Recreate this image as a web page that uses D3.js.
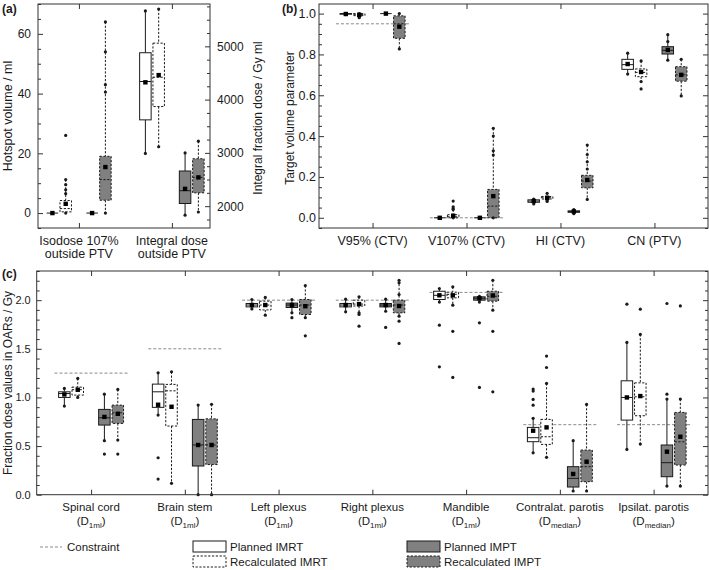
<!DOCTYPE html>
<html><head><meta charset="utf-8">
<script src="https://cdn.jsdelivr.net/npm/d3@7"></script>
<style>body{margin:0;background:#fff}</style>
</head><body>
<svg id="chart" width="709" height="570"></svg>
<script>
// ---------------- DATA ----------------
const seriesNames = ["Planned IMRT", "Recalculated IMRT", "Planned IMPT", "Recalculated IMPT"];
const constraintLabel = "Constraint";

// stats per box: [whiskerLow, q1, median, q3, whiskerHigh, mean]
// Panel (a)
const aCategories = [["Isodose 107%", "outside PTV"], ["Integral dose", "outside PTV"]];
const aTicksLeft = [0, 20, 40, 60];
const aTicksRight = [2000, 3000, 4000, 5000];
const aIsodoseStats = [
  [0, 0, 0, 0, 0, 0],
  [0, 0.4, 1.5, 4.2, 11.2, 3.1],
  [0, 0, 0, 0, 0, 0],
  [0, 4.3, 11.2, 19.0, 64, 15.4]
];
const aIsodoseOutliers = [[], [26, 9.5, 7.8, 6.5], [], [54, 43, 40.5]];
const aIntegralStats = [
  [2990, 3620, 4340, 4880, 5665, 4325],
  [3115, 3870, 4420, 5060, 5700, 4460],
  [1830, 2050, 2290, 2660, 3000, 2325],
  [1890, 2250, 2540, 2890, 3220, 2540]
];
const aIntegralOutliers = [[], [], [], []];

// Panel (b)
const bCategories = ["V95% (CTV)", "V107% (CTV)", "HI (CTV)", "CN (PTV)"];
const bTicks = [0, 0.2, 0.4, 0.6, 0.8, 1.0];
const bStats = [
  [[0.995, 0.997, 1.0, 1.0, 1.0, 0.998], [0.985, 0.99, 0.995, 1.0, 1.0, 0.994], [1.0, 1.0, 1.0, 1.0, 1.0, 1.0], [0.827, 0.879, 0.95, 0.989, 1.0, 0.936]],
  [[0, 0, 0, 0, 0, 0], [0, 0, 0.005, 0.015, 0.04, 0.01], [0, 0, 0, 0, 0, 0], [0, 0, 0.057, 0.139, 0.438, 0.106]],
  [[0.068, 0.076, 0.082, 0.088, 0.092, 0.082], [0.085, 0.092, 0.098, 0.104, 0.12, 0.098], [0.02, 0.027, 0.03, 0.034, 0.04, 0.031], [0.09, 0.147, 0.18, 0.208, 0.356, 0.185]],
  [[0.704, 0.727, 0.75, 0.776, 0.806, 0.753], [0.667, 0.691, 0.712, 0.729, 0.768, 0.714], [0.772, 0.802, 0.82, 0.838, 0.897, 0.822], [0.597, 0.669, 0.70, 0.74, 0.776, 0.70]]
];
const bOutliers = [
  [[], [0.98], [], []],
  [[], [0.082, 0.054, 0.045], [], [0.40, 0.328, 0.307]],
  [[], [0.08], [], [0.31, 0.274, 0.239]],
  [[], [0.631], [0.863], []]
];
const bConstraints = [0.95, 0, null, null];

// Panel (c)
const cCategories = ["Spinal cord", "Brain stem", "Left plexus", "Right plexus", "Mandible", "Contralat. parotis", "Ipsilat. parotis"];
const cSubscripts = ["1ml", "1ml", "1ml", "1ml", "1ml", "median", "median"];
const cTicks = [0, 0.5, 1.0, 1.5, 2.0];
const cStats = [
  [[0.911, 1.0, 1.04, 1.058, 1.093, 1.031], [1.0, 1.024, 1.08, 1.106, 1.196, 1.079], [0.555, 0.716, 0.791, 0.877, 1.034, 0.80], [0.562, 0.733, 0.842, 0.921, 1.082, 0.832]],
  [[0.819, 0.898, 1.058, 1.137, 1.253, 0.925], [0.117, 0.706, 1.068, 1.134, 1.264, 0.904], [0, 0.295, 0.511, 0.774, 0.921, 0.511], [0, 0.31, 0.511, 0.78, 0.93, 0.511]],
  [[1.91, 1.931, 1.95, 1.966, 2.007, 1.95], [1.846, 1.90, 1.95, 1.99, 2.028, 1.95], [1.87, 1.925, 1.95, 1.97, 2.007, 1.95], [1.82, 1.853, 1.95, 2.007, 2.15, 1.938]],
  [[1.88, 1.931, 1.95, 1.966, 2.01, 1.95], [1.853, 1.94, 1.96, 2.0, 2.034, 1.96], [1.886, 1.931, 1.95, 1.966, 2.01, 1.95], [1.836, 1.87, 1.95, 2.0, 2.205, 1.94]],
  [[1.98, 2.007, 2.05, 2.092, 2.12, 2.05], [1.949, 2.024, 2.06, 2.082, 2.137, 2.05], [1.98, 2.0, 2.02, 2.034, 2.04, 2.02], [1.897, 1.99, 2.04, 2.092, 2.205, 2.048]],
  [[0.431, 0.545, 0.586, 0.692, 0.785, 0.658], [0.384, 0.517, 0.596, 0.774, 1.144, 0.692], [0.038, 0.079, 0.168, 0.288, 0.555, 0.213], [0.038, 0.134, 0.288, 0.459, 0.928, 0.339]],
  [[0.466, 0.767, 1.0, 1.171, 1.566, 1.0], [0.521, 0.812, 1.007, 1.15, 1.648, 1.014], [0.089, 0.185, 0.329, 0.511, 0.983, 0.442], [0.089, 0.305, 0.544, 0.846, 0.983, 0.596]]
];
const cOutliers = [
  [[], [], [0.418], [0.418]],
  [[0.38, 0.161], [], [], []],
  [[], [], [1.82], [1.633]],
  [[], [1.87, 1.733], [1.72], [2.178, 2.058, 1.784, 1.555]],
  [[1.743, 1.315], [1.68, 1.206], [1.767, 1.103], [1.68, 1.058]],
  [[1.086, 1.065, 0.98, 0.92], [1.425, 1.308], [], []],
  [[1.959], [1.908], [1.966, 1.034], [1.941]]
];
const cConstraints = [1.25, 1.5, 2.0, 2.0, 2.08, 0.72, 0.72];

// ---------------- STYLE ----------------
const FONT = "'Liberation Sans', Arial, Helvetica, sans-serif";
const INK = "#1a1a1a";
const FRAME = "#333";
const FILLS = ["#ffffff", "#ffffff", "#808080", "#808080"];
const DASHED = [false, true, false, true];
const OFFS = [-0.285, -0.142, 0.142, 0.285];
const HALF = 5.75;
const DASH = "2.2,1.6";

const svg = d3.select("#chart");

function frame(x0, y0, x1, y1) {
  svg.append("rect").attr("x", x0).attr("y", y0).attr("width", x1 - x0).attr("height", y1 - y0)
    .attr("fill", "none").attr("stroke", FRAME).attr("stroke-width", 1);
}

function yAxis(scale, x, side, majors, minors, fmt, fontSize, pad) {
  const mk = side === "left" ? d3.axisLeft : d3.axisRight;
  const g = svg.append("g").attr("transform", `translate(${x},0)`)
    .call(mk(scale).tickValues(majors).tickSizeInner(-5).tickSizeOuter(0).tickPadding(pad).tickFormat(fmt));
  g.select(".domain").remove();
  g.selectAll("line").attr("stroke", FRAME);
  g.selectAll("text").attr("font-size", fontSize).attr("font-family", FONT).attr("fill", INK);
  const gm = svg.append("g").attr("transform", `translate(${x},0)`)
    .call(mk(scale).tickValues(minors).tickSizeInner(-3).tickSizeOuter(0).tickFormat(""));
  gm.select(".domain").remove();
  gm.selectAll("line").attr("stroke", FRAME);
}

function xCatTicks(scale, n, yTop, yBot) {
  const vals = d3.range(1, n + 1);
  const gb = svg.append("g").attr("transform", `translate(0,${yBot})`)
    .call(d3.axisBottom(scale).tickValues(vals).tickSizeInner(-5).tickSizeOuter(0).tickFormat(""));
  gb.select(".domain").remove(); gb.selectAll("line").attr("stroke", FRAME);
  const gt = svg.append("g").attr("transform", `translate(0,${yTop})`)
    .call(d3.axisTop(scale).tickValues(vals).tickSizeInner(-5).tickSizeOuter(0).tickFormat(""));
  gt.select(".domain").remove(); gt.selectAll("line").attr("stroke", FRAME);
}

function minorsFor(lo, hi, step, majors) {
  const out = [];
  for (let v = Math.ceil(lo / step) * step; v <= hi + 1e-9; v += step) {
    const r = Math.round(v * 1000) / 1000;
    if (!majors.some(m => Math.abs(m - r) < 1e-6)) out.push(r);
  }
  return out;
}

function box(xs, ys, cat, s, st, outs) {
  const g = svg.append("g");
  const cx = xs(cat + OFFS[s]);
  const [lo, q1, med, q3, hi, mean] = st;
  const dash = DASHED[s] ? DASH : null;
  g.append("line").attr("x1", cx).attr("x2", cx).attr("y1", ys(hi)).attr("y2", ys(q3))
    .attr("stroke", INK).attr("stroke-width", 1).attr("stroke-dasharray", dash);
  g.append("line").attr("x1", cx).attr("x2", cx).attr("y1", ys(q1)).attr("y2", ys(lo))
    .attr("stroke", INK).attr("stroke-width", 1).attr("stroke-dasharray", dash);
  g.append("rect").attr("x", cx - HALF).attr("y", ys(q3)).attr("width", HALF * 2)
    .attr("height", Math.max(0, ys(q1) - ys(q3)))
    .attr("fill", FILLS[s]).attr("stroke", INK).attr("stroke-width", 1).attr("stroke-dasharray", dash);
  g.append("line").attr("x1", cx - HALF).attr("x2", cx + HALF).attr("y1", ys(med)).attr("y2", ys(med))
    .attr("stroke", INK).attr("stroke-width", 1).attr("stroke-dasharray", dash);
  [lo, hi].concat(outs).forEach(v => {
    g.append("circle").attr("cx", cx).attr("cy", ys(v)).attr("r", 1.6).attr("fill", INK);
  });
  g.append("rect").attr("x", cx - 2.2).attr("y", ys(mean) - 2.2).attr("width", 4.4).attr("height", 4.4).attr("fill", "#000");
}

function constraint(xs, ys, cat, v) {
  if (v === null) return;
  svg.append("line").attr("x1", xs(cat - 0.39)).attr("x2", xs(cat + 0.39)).attr("y1", ys(v)).attr("y2", ys(v))
    .attr("stroke", "#8a8a8a").attr("stroke-width", 1).attr("stroke-dasharray", "3,2");
}

function label(x, y, txt, size, opts = {}) {
  const t = svg.append("text").attr("x", x).attr("y", y).attr("font-family", FONT).attr("font-size", size)
    .attr("fill", INK).attr("text-anchor", opts.anchor || "start").text(txt);
  if (opts.bold) t.attr("font-weight", "bold");
  if (opts.rotate) t.attr("transform", `rotate(-90,${x},${y})`);
  return t;
}

// ---------------- PANEL (a) ----------------
const aX = d3.scaleLinear().domain([0.56, 2.41]).range([38, 210]);
const aYL = d3.scaleLinear().domain([-5, 70]).range([228, 4]);
const aYR = d3.scaleLinear().domain([1590, 5795]).range([228, 4]);
yAxis(aYL, 38, "left", aTicksLeft, minorsFor(-5, 70, 5, aTicksLeft), d3.format("d"), 12, 7);
yAxis(aYR, 210, "right", aTicksRight, minorsFor(1600, 5750, 250, aTicksRight), d3.format("d"), 12, 7);
xCatTicks(aX, 2, 4, 228);
seriesNames.forEach((_, s) => {
  box(aX, aYL, 1, s, aIsodoseStats[s], aIsodoseOutliers[s]);
  box(aX, aYR, 2, s, aIntegralStats[s], aIntegralOutliers[s]);
});
frame(38, 4, 210, 228);
aCategories.forEach((lines, i) => {
  lines.forEach((ln, j) => label(aX(i + 1), 245 + j * 13, ln, 12.5, { anchor: "middle" }));
});
label(12, 116, "Hotspot volume / ml", 12.5, { anchor: "middle", rotate: true });
label(262, 118, "Integral fraction dose / Gy ml", 12, { anchor: "middle", rotate: true });
label(2, 13, "(a)", 12, { bold: true });

// ---------------- PANEL (b) ----------------
const bX = d3.scaleLinear().domain([0.43, 4.57]).range([319, 708]);
const bY = d3.scaleLinear().domain([-0.05, 1.047]).range([228, 4]);
yAxis(bY, 319, "left", bTicks, minorsFor(-0.05, 1.04, 0.05, bTicks), d3.format(".1f"), 12.5, 3);
yAxis(bY, 708, "right", bTicks, minorsFor(-0.05, 1.04, 0.05, bTicks), () => "", 12, 3);
xCatTicks(bX, 4, 4, 228);
bCategories.forEach((c, i) => constraint(bX, bY, i + 1, bConstraints[i]));
bCategories.forEach((c, i) => seriesNames.forEach((_, s) => box(bX, bY, i + 1, s, bStats[i][s], bOutliers[i][s])));
frame(319, 4, 708, 228);
bCategories.forEach((c, i) => label(bX(i + 1), 245, c, 12.5, { anchor: "middle" }));
label(294, 118, "Target volume parameter", 12, { anchor: "middle", rotate: true });
label(282, 13, "(b)", 12, { bold: true });

// ---------------- PANEL (c) ----------------
const cX = d3.scaleLinear().domain([0.42, 7.58]).range([36.7, 708]);
const cY = d3.scaleLinear().domain([0, 2.3]).range([494.7, 271]);
yAxis(cY, 36.7, "left", cTicks, minorsFor(0, 2.3, 0.1, cTicks), d3.format(".1f"), 11, 6);
yAxis(cY, 708, "right", cTicks, minorsFor(0, 2.3, 0.1, cTicks), () => "", 11, 6);
xCatTicks(cX, 7, 271, 494.7);
cCategories.forEach((c, i) => constraint(cX, cY, i + 1, cConstraints[i]));
cCategories.forEach((c, i) => seriesNames.forEach((_, s) => box(cX, cY, i + 1, s, cStats[i][s], cOutliers[i][s])));
frame(36.7, 271, 708, 494.7);
cCategories.forEach((c, i) => {
  label(cX(i + 1), 511, c, 11.5, { anchor: "middle" });
  const t = svg.append("text").attr("x", cX(i + 1)).attr("y", 525).attr("font-family", FONT)
    .attr("font-size", 11.5).attr("fill", INK).attr("text-anchor", "middle");
  t.append("tspan").text("(D");
  t.append("tspan").attr("font-size", 8).attr("dy", 3).text(cSubscripts[i]);
  t.append("tspan").attr("dy", -3).text(")");
});
label(12, 383, "Fraction dose values in OARs / Gy", 12, { anchor: "middle", rotate: true });
label(2, 278, "(c)", 12, { bold: true });

// ---------------- LEGEND ----------------
svg.append("line").attr("x1", 40).attr("x2", 62).attr("y1", 547).attr("y2", 547)
  .attr("stroke", "#8a8a8a").attr("stroke-dasharray", "3,2");
label(67, 551, constraintLabel, 11.5);
const legPos = [[193, 541], [193, 556], [407, 541], [407, 556]];
seriesNames.forEach((n, s) => {
  const [lx, ly] = legPos[s];
  svg.append("rect").attr("x", lx).attr("y", ly).attr("width", 33).attr("height", 11)
    .attr("fill", FILLS[s]).attr("stroke", INK).attr("stroke-dasharray", DASHED[s] ? DASH : null);
  label(lx + 37, ly + 10, n, 11.5);
});
</script>
</body></html>
